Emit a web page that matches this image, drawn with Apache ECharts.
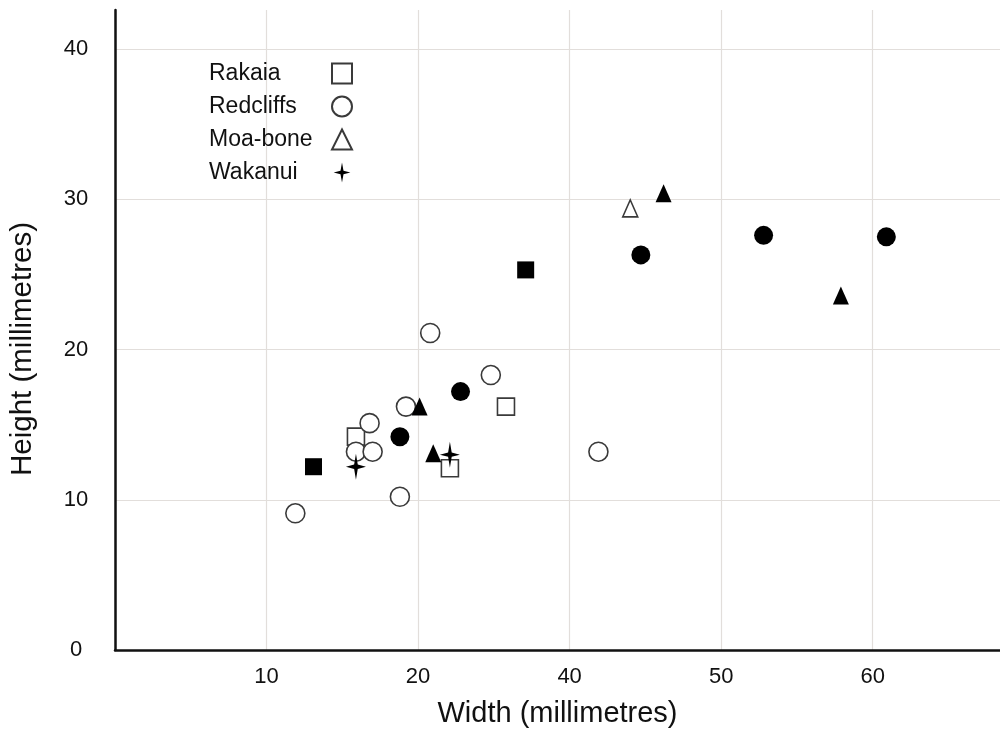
<!DOCTYPE html>
<html>
<head>
<meta charset="utf-8">
<script src="https://cdn.jsdelivr.net/npm/echarts@6/dist/echarts.min.js"></script>
<style>
  html, body { margin: 0; padding: 0; background: #fff; }
  #chart { width: 1000px; height: 735px; }
</style>
</head>
<body>
<div id="chart"></div>
<script>
// x values are in grid units (gridlines every 10); labels as printed on the original axis
var xTickValues = [10, 20, 30, 40, 50];
var xTickLabels = ['10', '20', '40', '50', '60'];

// open symbols (legend entries)
var rakaia = [[15.9, 14.2], [25.8, 16.2], [22.1, 12.1]];
var redcliffs = [[20.8, 21.1], [24.8, 18.3], [19.2, 16.2], [16.8, 15.1], [15.9, 13.2],
                 [17.0, 13.2], [18.8, 10.2], [11.9, 9.1], [31.9, 13.2]];
var moaBone = [[34.0, 29.4]];
var wakanui = [[15.9, 12.2], [22.1, 13.0]];

// filled symbols (no legend entry)
var filledSquares = [[13.1, 12.2], [27.1, 25.3]];
var filledCircles = [[22.8, 17.2], [18.8, 14.2], [34.7, 26.3], [42.8, 27.6], [50.9, 27.5]];
var filledTriangles = [[20.1, 16.2], [21.0, 13.1], [36.2, 30.4], [47.9, 23.6]];

var FONT = 'Liberation Sans, Arial, sans-serif';
var starPath = 'path://M0,-12 L1.8,-2 L10,0 L1.8,2 L0,12 L-1.8,2 L-10,0 L-1.8,-2 Z';

function openSeries(name, data, symbol, size) {
    return {
        name: name,
        type: 'scatter',
        data: data,
        symbol: symbol,
        symbolSize: size,
        itemStyle: { color: '#fff', borderColor: '#3a3a3a', borderWidth: 1.6, opacity: 1 }
    };
}
function filledSeries(name, data, symbol, size) {
    return {
        name: name,
        type: 'scatter',
        data: data,
        symbol: symbol,
        symbolSize: size,
        itemStyle: { color: '#000', borderWidth: 0, opacity: 1 }
    };
}

var option = {
    animation: false,
    backgroundColor: '#fff',
    grid: { left: 115, right: 0, top: 10, bottom: 85 },
    legend: {
        data: ['Rakaia', 'Redcliffs', 'Moa-bone', 'Wakanui'],
        orient: 'vertical',
        left: 204,
        top: 57,
        align: 'right',
        itemWidth: 20,
        itemHeight: 20,
        itemGap: 10,
        formatter: function (name) { return '{a|' + name + '}'; },
        textStyle: {
            fontFamily: FONT, fontSize: 23, color: '#111',
            rich: { a: { fontFamily: FONT, fontSize: 23, color: '#111', width: 118, align: 'left', lineHeight: 24 } }
        }
    },
    xAxis: {
        type: 'value',
        min: 0,
        max: 58.4,
        interval: 10,
        name: 'Width (millimetres)',
        nameLocation: 'middle',
        nameGap: 49,
        nameTextStyle: { fontFamily: FONT, fontSize: 29, color: '#111' },
        axisLine: { show: true, lineStyle: { color: '#111', width: 2.5 } },
        axisTick: { show: false },
        axisLabel: {
            fontFamily: FONT, fontSize: 22, color: '#111', margin: 16,
            showMaxLabel: false,
            formatter: function (v) {
                var i = xTickValues.indexOf(v);
                return i >= 0 ? xTickLabels[i] : '';
            }
        },
        splitLine: { show: true, showMaxLine: false, lineStyle: { color: '#e2dedb', width: 1.2 } }
    },
    yAxis: {
        type: 'value',
        min: 0,
        max: 42.6,
        interval: 10,
        name: 'Height (millimetres)',
        nameLocation: 'middle',
        nameGap: 77,
        nameTextStyle: { fontFamily: FONT, fontSize: 29.5, color: '#111', padding: [0, 38, 0, 0] },
        axisLine: { show: true, lineStyle: { color: '#111', width: 2.5 } },
        axisTick: { show: false },
        axisLabel: {
            fontFamily: FONT, fontSize: 22, color: '#111', margin: 39, align: 'center',
            showMaxLabel: false
        },
        splitLine: { show: true, showMaxLine: false, lineStyle: { color: '#e2dedb', width: 1.2 } }
    },
    series: [
        openSeries('Rakaia', rakaia, 'rect', 17),
        openSeries('Redcliffs', redcliffs, 'circle', 19),
        openSeries('Moa-bone', moaBone, 'triangle', [15, 17]),
        filledSeries('Wakanui', wakanui, starPath, [20, 26]),
        filledSeries('Rakaia filled', filledSquares, 'rect', 17),
        filledSeries('Redcliffs filled', filledCircles, 'circle', 19),
        filledSeries('Moa-bone filled', filledTriangles, 'triangle', [16, 18])
    ]
};

var myChart = echarts.init(document.getElementById('chart'));
myChart.setOption(option);
window.addEventListener('resize', function () { myChart.resize(); });
</script>
</body>
</html>
